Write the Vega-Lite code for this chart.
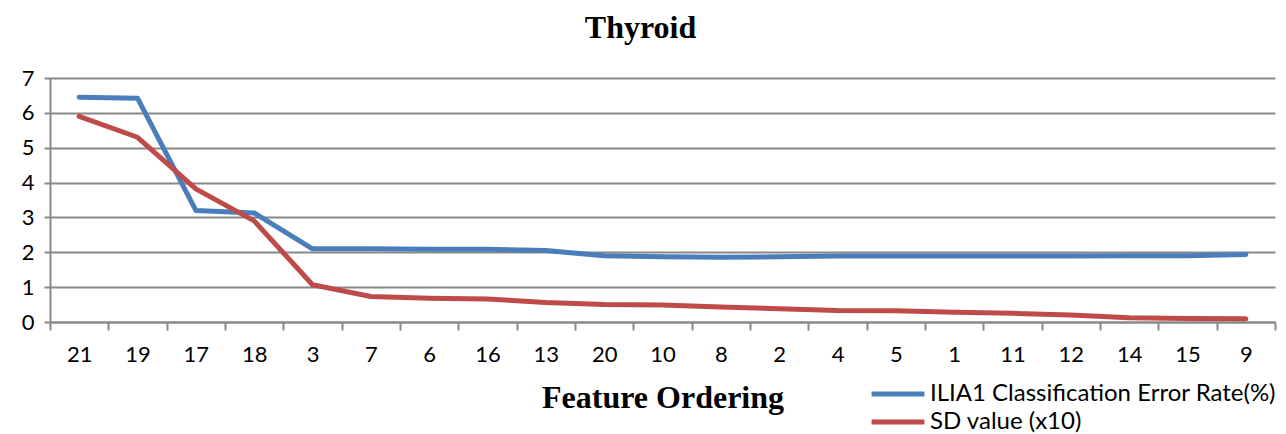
{
  "$schema": "https://vega.github.io/schema/vega-lite/v6.json",
  "autosize": {"type": "none"},
  "width": 1225,
  "height": 244,
  "padding": {"left": 50, "top": 78, "right": 11, "bottom": 112},
  "background": "white",
  "title": {"text": "Thyroid", "font": "Liberation Serif", "fontSize": 32, "fontWeight": "bold", "color": "#000000", "offset": 22, "dx": -22},
  "data": {"values": [
    {"f":"21","s":"ILIA1 Classification Error Rate(%)","v":6.45},
    {"f":"19","s":"ILIA1 Classification Error Rate(%)","v":6.42},
    {"f":"17","s":"ILIA1 Classification Error Rate(%)","v":3.2},
    {"f":"18","s":"ILIA1 Classification Error Rate(%)","v":3.13},
    {"f":"3","s":"ILIA1 Classification Error Rate(%)","v":2.1},
    {"f":"7","s":"ILIA1 Classification Error Rate(%)","v":2.1},
    {"f":"6","s":"ILIA1 Classification Error Rate(%)","v":2.09},
    {"f":"16","s":"ILIA1 Classification Error Rate(%)","v":2.09},
    {"f":"13","s":"ILIA1 Classification Error Rate(%)","v":2.05},
    {"f":"20","s":"ILIA1 Classification Error Rate(%)","v":1.9},
    {"f":"10","s":"ILIA1 Classification Error Rate(%)","v":1.87},
    {"f":"8","s":"ILIA1 Classification Error Rate(%)","v":1.86},
    {"f":"2","s":"ILIA1 Classification Error Rate(%)","v":1.87},
    {"f":"4","s":"ILIA1 Classification Error Rate(%)","v":1.89},
    {"f":"5","s":"ILIA1 Classification Error Rate(%)","v":1.89},
    {"f":"1","s":"ILIA1 Classification Error Rate(%)","v":1.89},
    {"f":"11","s":"ILIA1 Classification Error Rate(%)","v":1.89},
    {"f":"12","s":"ILIA1 Classification Error Rate(%)","v":1.89},
    {"f":"14","s":"ILIA1 Classification Error Rate(%)","v":1.9},
    {"f":"15","s":"ILIA1 Classification Error Rate(%)","v":1.9},
    {"f":"9","s":"ILIA1 Classification Error Rate(%)","v":1.94},
    {"f":"21","s":"SD value (x10)","v":5.9},
    {"f":"19","s":"SD value (x10)","v":5.3},
    {"f":"17","s":"SD value (x10)","v":3.82},
    {"f":"18","s":"SD value (x10)","v":2.9},
    {"f":"3","s":"SD value (x10)","v":1.07},
    {"f":"7","s":"SD value (x10)","v":0.73},
    {"f":"6","s":"SD value (x10)","v":0.68},
    {"f":"16","s":"SD value (x10)","v":0.66},
    {"f":"13","s":"SD value (x10)","v":0.56},
    {"f":"20","s":"SD value (x10)","v":0.5},
    {"f":"10","s":"SD value (x10)","v":0.49},
    {"f":"8","s":"SD value (x10)","v":0.43},
    {"f":"2","s":"SD value (x10)","v":0.38},
    {"f":"4","s":"SD value (x10)","v":0.33},
    {"f":"5","s":"SD value (x10)","v":0.32},
    {"f":"1","s":"SD value (x10)","v":0.28},
    {"f":"11","s":"SD value (x10)","v":0.25},
    {"f":"12","s":"SD value (x10)","v":0.2},
    {"f":"14","s":"SD value (x10)","v":0.12},
    {"f":"15","s":"SD value (x10)","v":0.1},
    {"f":"9","s":"SD value (x10)","v":0.09}
  ]},
  "mark": {"type": "line", "strokeWidth": 5, "strokeCap": "round", "strokeJoin": "round"},
  "encoding": {
    "x": {"field": "f", "type": "ordinal", "sort": null,
      "scale": {"type": "band", "paddingInner": 0, "paddingOuter": 0},
      "axis": {"title": "Feature Ordering", "titleFont": "Liberation Serif", "titleFontSize": 32, "titleFontWeight": "bold", "titleColor": "#000000", "titlePadding": 17,
        "labelAngle": 0, "labelFont": "Lato", "labelFontSize": 22, "labelColor": "#000000", "labelPadding": 14,
        "tickBand": "extent", "tickSize": 8, "tickColor": "#888888", "tickWidth": 2, "domainColor": "#888888", "domainWidth": 2, "grid": false}},
    "y": {"field": "v", "type": "quantitative",
      "scale": {"domain": [0, 7], "nice": false},
      "axis": {"title": null, "values": [0,1,2,3,4,5,6,7], "labelFont": "Lato", "labelFontSize": 22, "labelColor": "#000000", "labelPadding": 10,
        "tickSize": 6, "tickColor": "#888888", "tickWidth": 2, "domainColor": "#888888", "domainWidth": 2,
        "grid": true, "gridColor": "#888888", "gridWidth": 2}},
    "color": {"field": "s", "type": "nominal",
      "scale": {"domain": ["ILIA1 Classification Error Rate(%)", "SD value (x10)"], "range": ["#4A7EBB", "#BE4B48"]},
      "legend": {"title": null, "orient": "none", "legendX": 832, "legendY": 300, "symbolType": "M-2,0H2", "symbolSize": 700, "symbolStrokeWidth": 5, "symbolFillColor": "transparent",
        "labelFont": "Lato", "labelFontSize": 24, "labelColor": "#000000", "labelLimit": 0, "rowPadding": -4, "labelOffset": 16}}
  },
  "config": {"view": {"stroke": null}}
}
